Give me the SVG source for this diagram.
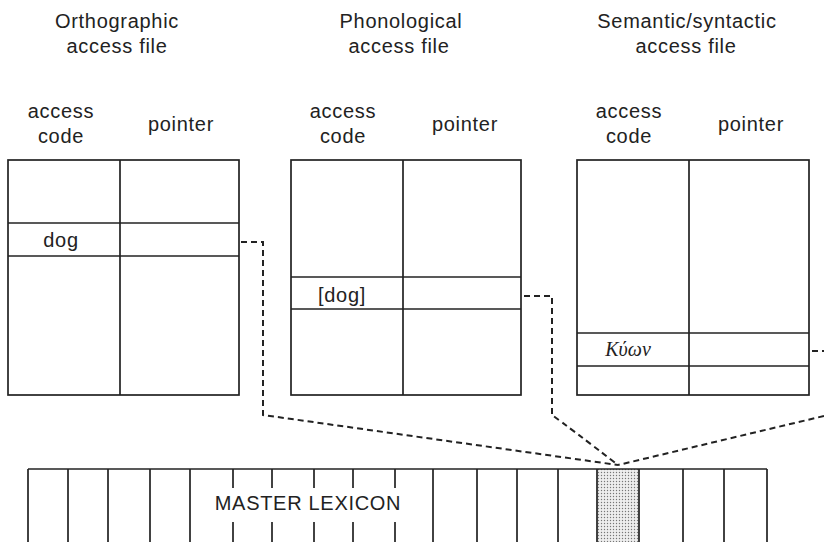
<svg xmlns="http://www.w3.org/2000/svg" width="824" height="542" viewBox="0 0 824 542">
<style>
.t{font-family:"Liberation Sans",Arial,sans-serif;font-size:20px;fill:#222;letter-spacing:0.7px;text-anchor:middle}
.g{font-family:"Liberation Serif","Times New Roman",serif;font-size:20px;font-style:italic;fill:#222;text-anchor:middle}
.b{fill:none;stroke:#222;stroke-width:1.7}
.d{fill:none;stroke:#222;stroke-width:2;stroke-dasharray:6 4}
</style>
<defs>
<pattern id="dots" width="3" height="3" patternUnits="userSpaceOnUse">
<rect width="3" height="3" fill="#eee"/>
<circle cx="1.5" cy="1.5" r="0.7" fill="#777"/>
</pattern>
</defs>
<rect width="824" height="542" fill="#fff"/>
<g id="ortho">
<text class="t" x="117" y="28">Orthographic</text>
<text class="t" x="117" y="53">access file</text>
<text class="t" x="61" y="118">access</text>
<text class="t" x="61" y="143">code</text>
<text class="t" x="181" y="131">pointer</text>
<rect class="b" x="8" y="160" width="231" height="235"/>
<line class="b" x1="120" y1="160" x2="120" y2="395"/>
<line class="b" x1="8" y1="223" x2="239" y2="223"/>
<line class="b" x1="8" y1="256" x2="239" y2="256"/>
<text class="t" x="61" y="247">dog</text>
</g>
<g id="phono">
<text class="t" x="401" y="28">Phonological</text>
<text class="t" x="399" y="53">access file</text>
<text class="t" x="343" y="118">access</text>
<text class="t" x="343" y="143">code</text>
<text class="t" x="465" y="131">pointer</text>
<rect class="b" x="291" y="160" width="230" height="235"/>
<line class="b" x1="403" y1="160" x2="403" y2="395"/>
<line class="b" x1="291" y1="277" x2="521" y2="277"/>
<line class="b" x1="291" y1="309" x2="521" y2="309"/>
<text class="t" x="342" y="302">[dog]</text>
</g>
<g id="semantic">
<text class="t" x="687" y="28">Semantic/syntactic</text>
<text class="t" x="686" y="53">access file</text>
<text class="t" x="629" y="118">access</text>
<text class="t" x="629" y="143">code</text>
<text class="t" x="751" y="131">pointer</text>
<rect class="b" x="577" y="160" width="232" height="235"/>
<line class="b" x1="689" y1="160" x2="689" y2="395"/>
<line class="b" x1="577" y1="333" x2="809" y2="333"/>
<line class="b" x1="577" y1="366" x2="809" y2="366"/>
<text class="g" x="628" y="356">Κύων</text>
</g>
<g id="lexicon">
<rect x="597" y="469" width="42" height="80" fill="url(#dots)"/>
<line class="b" x1="28" y1="469" x2="767" y2="469"/>
<path class="b" d="M28 469V542M68 469V542M108 469V542M150 469V542M190 469V542M433 469V542M477 469V542M517 469V542M558 469V542M597 469V542M639 469V542M683 469V542M724 469V542M767 469V542"/>
<path class="b" d="M233 469V488M272 469V488M314 469V488M353 469V488M395 469V488M233 522V542M272 522V542M314 522V542M353 522V542M395 522V542"/>
<text class="t" x="308" y="510">MASTER LEXICON</text>
</g>
<g id="connectors">
<path class="d" d="M241 242H263V415L618 465"/>
<path class="d" d="M524 296H552V415Q570 428 618 465"/>
<path class="d" d="M812 351H824"/>
<path class="d" d="M824 416L618 465"/>
</g>
</svg>
